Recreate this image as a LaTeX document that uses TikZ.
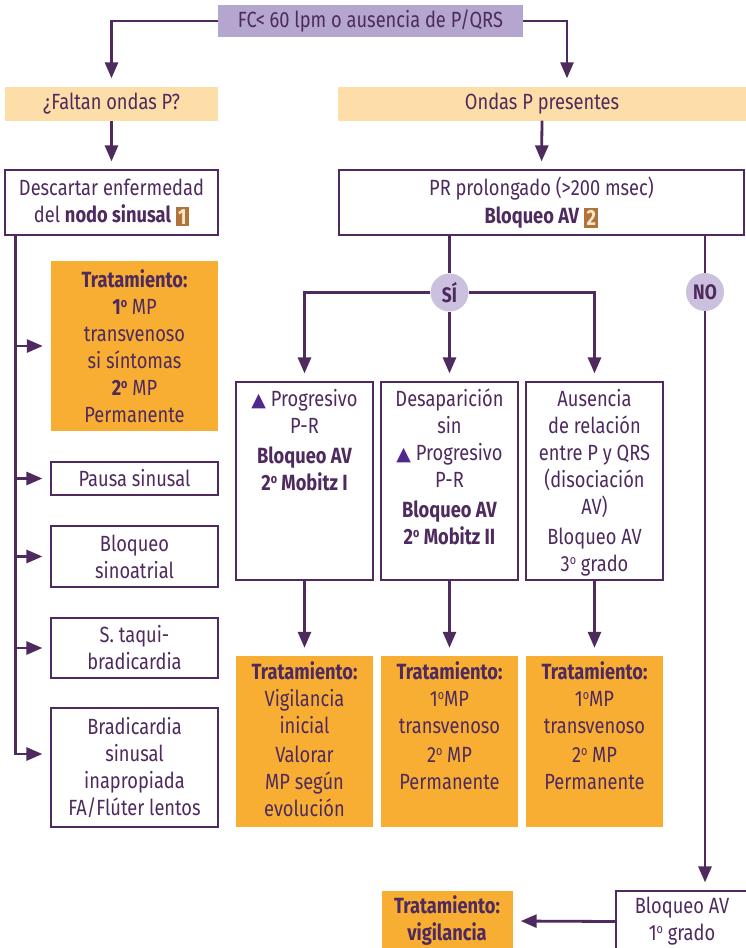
\documentclass[tikz,border=0pt]{standalone}
\usepackage{fontspec}
\setmainfont{Fira Sans}[FakeStretch=0.83]
\newfontfamily\trifont{DejaVu Sans}
\usetikzlibrary{arrows.meta,calc}

\definecolor{ink}{RGB}{78,42,94}
\definecolor{lila}{RGB}{180,166,206}
\definecolor{peach}{RGB}{253,222,168}
\definecolor{amber}{RGB}{248,174,50}
\definecolor{badgebrown}{RGB}{176,116,58}
\definecolor{badgetext}{RGB}{250,232,205}
\definecolor{disc}{RGB}{203,192,222}
\definecolor{tri}{RGB}{80,40,140}

% small numbered badge after a title
\newcommand\badge[1]{\raisebox{-2pt}{\setlength\fboxsep{2.4pt}\colorbox{badgebrown}{\textcolor{badgetext}{\bfseries\fontsize{22}{22}\selectfont #1}}}}
% rising triangle glyph
\newcommand\uptri{{\trifont\fontsize{19}{19}\selectfont\textcolor{tri}{▲}}}
% raised ordinal o
\newcommand\ord{\raisebox{0.62ex}{\fontsize{13}{13}\selectfont o}}

\tikzset{
  base/.style={font=\fontsize{22}{27}\selectfont, text=ink, align=center, inner sep=0pt},
  wbox/.style={base, draw=ink, line width=1.2pt, fill=white},
  obox/.style={base, fill=amber},
  pbox/.style={base, fill=peach},
  txt/.style={base, anchor=north},
  conn/.style={draw=ink, line width=2.8pt},
  arr/.style={conn, -{Triangle[length=16pt,width=13pt]}, shorten >=8pt},
  discnode/.style={circle, fill=disc, minimum size=38pt, inner sep=0pt, text=ink,
    font=\bfseries\fontsize{21}{21}\selectfont},
}

\begin{document}
\begin{tikzpicture}[x=1pt,y=-1pt]
\fill[white] (0,0) rectangle (746,948);
\useasboundingbox (0,0) rectangle (746,948);

% header and the two first questions
\node[base, fill=lila, minimum width=305pt, minimum height=32pt] (top) at (370.5,21) {FC< 60 lpm o ausencia de P/QRS};
\node[pbox, minimum width=213pt, minimum height=34pt] (falt) at (111.5,103.5) {¿Faltan ondas P?};
\node[pbox, minimum width=408pt, minimum height=34pt] (ondas) at (542,103.5) {Ondas P presentes};

\node[wbox, minimum width=213pt, minimum height=65pt] (desc) at (111.5,202.5) {Descartar enfermedad\\del \textbf{nodo sinusal} \badge{1}};
\node[wbox, minimum width=405pt, minimum height=65pt] (pr) at (541.5,202.5) {PR prolongado (>200 msec)\\[1pt]\textbf{Bloqueo AV} \badge{2}};

% sinus node column
\node[obox, minimum width=167pt, minimum height=170pt] (t1) at (134.5,346) {\textbf{Tratamiento:}\\\textbf{1\ord} MP\\transvenoso\\si síntomas\\\textbf{2\ord} MP\\Permanente};
\node[wbox, minimum width=167pt, minimum height=33pt] (pausa) at (134.5,478.5) {Pausa sinusal};
\node[wbox, minimum width=167pt, minimum height=61pt] (sino) at (134.5,556.5) {Bloqueo\\sinoatrial};
\node[wbox, minimum width=167pt, minimum height=60pt] (taqui) at (134.5,648) {S. taqui-\\bradicardia};
\node[wbox, minimum width=167pt, minimum height=119pt] (brad) at (134.5,767.5) {Bradicardia\\sinusal\\inapropiada\\FA/Flúter lentos};

% AV block branch
\node[discnode] (si) at (449.5,292.5) {SÍ};
\node[discnode] (no) at (705,292) {NO};

\node[wbox, minimum width=137pt, minimum height=198pt] (bA) at (304.5,481) {};
\node[wbox, minimum width=137pt, minimum height=198pt] (bB) at (449.5,481) {};
\node[wbox, minimum width=137pt, minimum height=198pt] (bC) at (594.5,481) {};
\node[txt] at ([yshift=-6pt]bA.north) {\strut\uptri{} Progresivo\\P-R\\[3pt]\textbf{Bloqueo AV}\\\textbf{2\ord{} Mobitz I}};
\node[txt] at ([yshift=-6pt]bB.north) {\strut Desaparición\\sin\\\uptri{} Progresivo\\P-R\\[3pt]\textbf{Bloqueo AV}\\\textbf{2\ord{} Mobitz II}};
\node[txt] at ([yshift=-6pt]bC.north) {\strut Ausencia\\de relación\\entre P y QRS\\(disociación\\AV)\\[3pt]Bloqueo AV\\3\ord{} grado};

\node[obox, minimum width=137pt, minimum height=171pt] (oA) at (304.5,741.5) {};
\node[obox, minimum width=137pt, minimum height=171pt] (oB) at (449.5,741.5) {};
\node[obox, minimum width=137pt, minimum height=171pt] (oC) at (594.5,741.5) {};
\node[txt] at ([yshift=-5pt]oA.north) {\strut\textbf{Tratamiento:}\\Vigilancia\\inicial\\[2pt]Valorar\\MP según\\evolución};
\node[txt] at ([yshift=-5pt]oB.north) {\strut\textbf{Tratamiento:}\\1\ord MP\\transvenoso\\[2pt]2\ord{} MP\\Permanente};
\node[txt] at ([yshift=-5pt]oC.north) {\strut\textbf{Tratamiento:}\\1\ord MP\\transvenoso\\[2pt]2\ord{} MP\\Permanente};

\node[wbox, minimum width=132pt, minimum height=61pt] (av1) at (682,921.5) {Bloqueo AV\\1\ord{} grado};
\node[obox, minimum width=131pt, minimum height=60pt] (vig) at (447,921) {\textbf{Tratamiento:}\\\textbf{vigilancia}};

% connectors
\draw[arr] (top.west) -| (falt.north);
\draw[arr] (top.east) -| ([xshift=25pt]ondas.north);
\draw[arr] (falt.south) -- (desc.north);
\draw[arr] (ondas.south) -- (pr.north);

\coordinate (sp) at ([xshift=11pt]desc.south west);
\draw[arr] (sp) |- ([yshift=13.5pt]brad.west);
\draw[arr] (sp |- t1.west) -- (t1.west);
\draw[arr] (sp |- pausa.west) -- (pausa.west);
\draw[arr] (sp |- sino.west) -- (sino.west);
\draw[arr] (sp |- taqui.west) -- (taqui.west);

\draw[conn] (pr.south -| si) -- (si.north);
\draw[arr] (si.west) -| (bA.north);
\draw[arr] (si.south) -- (bB.north);
\draw[arr] (si.east) -| (bC.north);
\draw[conn] (pr.south -| no) -- (no.north);
\draw[arr] (no.south) -- (no |- av1.north);

\draw[arr] (bA.south) -- (oA.north);
\draw[arr] (bB.south) -- (oB.north);
\draw[arr] (bC.south) -- (oC.north);
\draw[arr] (av1.west) -- (vig.east);
\end{tikzpicture}
\end{document}
